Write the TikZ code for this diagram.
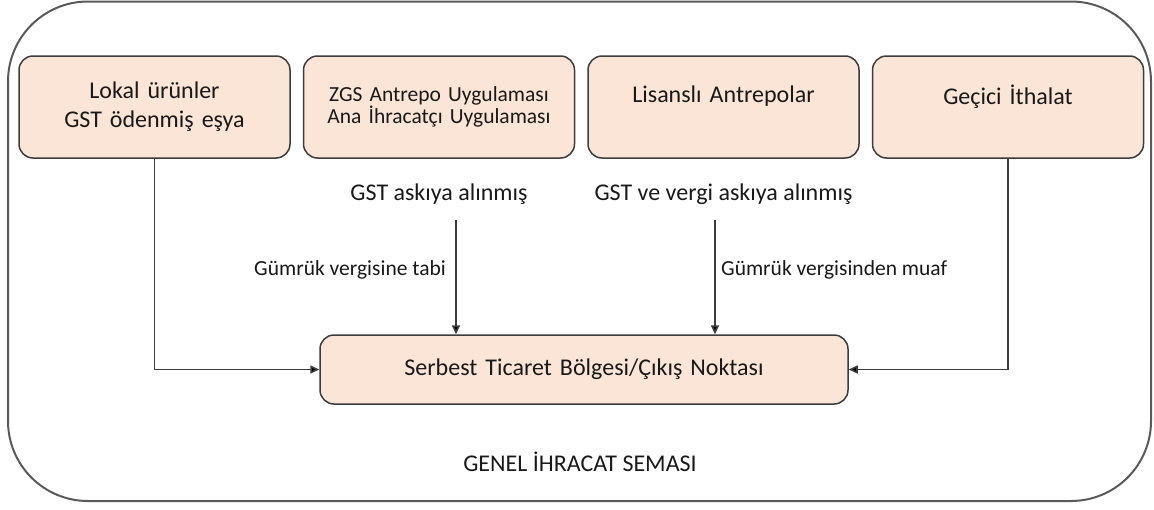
\documentclass[tikz,border=0pt]{standalone}
\usepackage{fontspec}
\setmainfont{Carlito}
\definecolor{boxfill}{RGB}{251,229,214}
\definecolor{boxline}{RGB}{60,60,60}
\definecolor{framegray}{RGB}{90,90,90}
\definecolor{textdark}{RGB}{25,25,25}
\usetikzlibrary{positioning, arrows.meta}

\begin{document}
\begin{tikzpicture}[x=1pt, y=-1pt, node distance=12pt,
    srcbox/.style={rectangle, draw=boxline, fill=boxfill, line width=1.5pt, rounded corners=14pt,
        minimum width=271pt, minimum height=102pt, text width=262pt, align=center,
        text=textdark, font=\fontsize{24}{29}\selectfont},
    onelinebox/.style={srcbox, text depth=25pt},
    targetbox/.style={srcbox, minimum width=528pt, minimum height=69pt, text width=510pt},
    flowlabel/.style={inner sep=0pt, text=textdark, font=\fontsize{24}{29}\selectfont},
    dutylabel/.style={inner sep=0pt, text=textdark, font=\fontsize{21.5}{26}\selectfont},
    flowarrow/.style={draw=boxline, line width=1.6pt, -{Triangle[length=9pt, width=8pt, fill=black]}},
    framebox/.style={draw=framegray, line width=2pt, rounded corners=80pt}
]
    \useasboundingbox (0,0) rectangle (1154,509);

    % Outer frame
    \draw[framebox] (8,1.5) rectangle (1151,501);

    % Source boxes
    \node[srcbox] (lokal) at (154.5,107) {Lokal ürünler\\GST ödenmiş eşya};
    \node[srcbox, right=12pt of lokal, font=\fontsize{21.5}{21}\selectfont] (zgs) {ZGS Antrepo Uygulaması\\Ana İhracatçı Uygulaması};
    \node[onelinebox, right=12pt of zgs] (lisans) {Lisanslı Antrepolar};
    \node[onelinebox, right=12pt of lisans] (gecici) {Geçici İthalat};

    % Target box
    \node[targetbox] (stb) at (584,369.5) {Serbest Ticaret Bölgesi/Çıkış Noktası};

    % Status labels
    \node[flowlabel, below=25pt of zgs] (askida) {GST askıya alınmış};
    \node[flowlabel, below=25pt of lisans] (vergiaskida) {GST ve vergi askıya alınmış};
    \node[dutylabel, anchor=east] (tabi) at (446,270) {Gümrük vergisine tabi};
    \node[dutylabel, anchor=west] (muaf) at (721,270) {Gümrük vergisinden muaf};

    % Arrow start points
    \coordinate (askidastart) at (456,220);
    \coordinate (vergistart) at (715,220);

    % Connectors
    \draw[flowarrow] (askidastart) -- (askidastart |- stb.north);
    \draw[flowarrow] (vergistart) -- (vergistart |- stb.north);
    \draw[flowarrow] (lokal.south) |- (stb.west);
    \draw[flowarrow] (gecici.south) |- (stb.east);

    % Caption
    \node[flowlabel] (genel) at (580,462) {GENEL İHRACAT SEMASI};
\end{tikzpicture}
\end{document}
